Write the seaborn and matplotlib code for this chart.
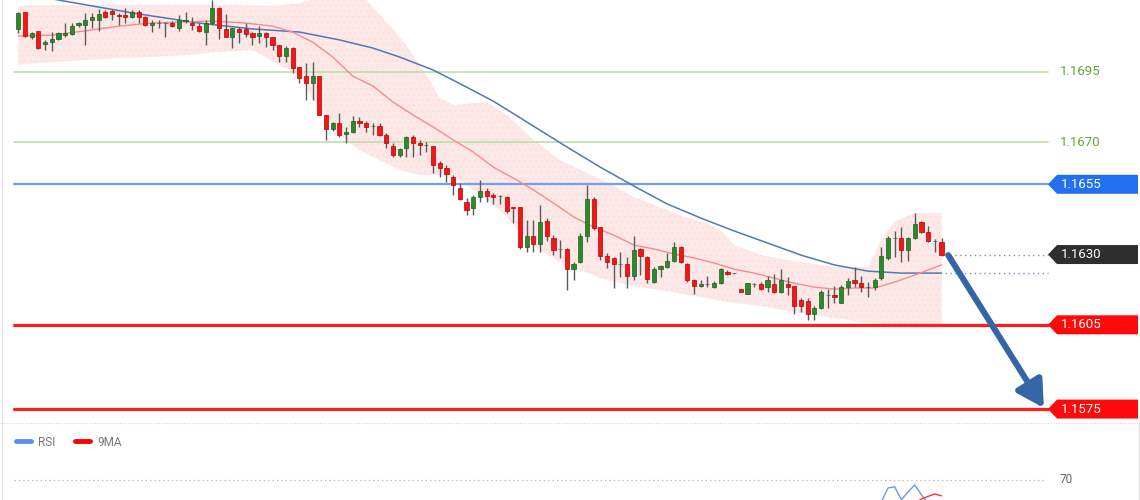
import numpy as np
import matplotlib
matplotlib.use('Agg')
from matplotlib import pyplot as plt
from matplotlib.patches import Polygon
from matplotlib.lines import Line2D
import seaborn as sns

# OHLC, one value per candle
opens = [
    1.17103, 1.17163, 1.17074, 1.17096, 1.17049, 1.17056, 1.17067, 1.17081, 1.17085, 1.17117,
    1.17117, 1.17135, 1.17135, 1.17163, 1.17167, 1.17153, 1.17153, 1.17145, 1.17163, 1.17145,
    1.17117, 1.17124, 1.17124, 1.17124, 1.17106, 1.17131, 1.17124, 1.17113, 1.17092, 1.17124,
    1.17178, 1.17103, 1.17074, 1.17103, 1.17103, 1.17089, 1.17078, 1.17089, 1.17074, 1.17046,
    1.17007, 1.17035, 1.16968, 1.16935, 1.16911, 1.16935, 1.16797, 1.16747, 1.16768, 1.16729,
    1.16736, 1.16775, 1.16768, 1.16757, 1.16757, 1.16725, 1.16686, 1.16654, 1.16679, 1.16718,
    1.16697, 1.16690, 1.16686, 1.16626, 1.16608, 1.16576, 1.16537, 1.16487, 1.16466, 1.16505,
    1.16526, 1.16512, 1.16508, 1.16505, 1.16469, 1.16469, 1.16327, 1.16366, 1.16337, 1.16419,
    1.16359, 1.16320, 1.16320, 1.16248, 1.16273, 1.16366, 1.16498, 1.16398, 1.16295, 1.16288,
    1.16266, 1.16266, 1.16223, 1.16320, 1.16291, 1.16202, 1.16248, 1.16256, 1.16277, 1.16327,
    1.16266, 1.16209, 1.16188, 1.16195, 1.16184, 1.16198, 1.16238, 1.16234, 1.16177, 1.16159,
    1.16195, 1.16195, 1.16184, 1.16195, 1.16166, 1.16195, 1.16188, 1.16138, 1.16134, 1.16088,
    1.16110, 1.16156, 1.16156, 1.16127, 1.16184, 1.16209, 1.16198, 1.16184, 1.16184, 1.16216,
    1.16288, 1.16359, 1.16359, 1.16316, 1.16359, 1.16416, 1.16380, 1.16348, 1.16344,
]
highs = [
    1.17163, 1.17163, 1.17092, 1.17096, 1.17064, 1.17092, 1.17092, 1.17124, 1.17124, 1.17128,
    1.17160, 1.17160, 1.17174, 1.17170, 1.17174, 1.17160, 1.17178, 1.17170, 1.17170, 1.17149,
    1.17135, 1.17135, 1.17128, 1.17131, 1.17153, 1.17163, 1.17145, 1.17124, 1.17135, 1.17206,
    1.17182, 1.17156, 1.17106, 1.17110, 1.17124, 1.17092, 1.17113, 1.17092, 1.17074, 1.17046,
    1.17042, 1.17039, 1.16968, 1.16982, 1.16985, 1.16935, 1.16797, 1.16772, 1.16804, 1.16754,
    1.16793, 1.16790, 1.16775, 1.16768, 1.16768, 1.16733, 1.16697, 1.16679, 1.16722, 1.16725,
    1.16708, 1.16700, 1.16686, 1.16633, 1.16619, 1.16583, 1.16555, 1.16501, 1.16512, 1.16565,
    1.16537, 1.16519, 1.16512, 1.16508, 1.16469, 1.16469, 1.16423, 1.16423, 1.16476, 1.16430,
    1.16369, 1.16352, 1.16323, 1.16273, 1.16377, 1.16547, 1.16505, 1.16398, 1.16305, 1.16291,
    1.16309, 1.16291, 1.16366, 1.16323, 1.16295, 1.16256, 1.16263, 1.16305, 1.16344, 1.16330,
    1.16270, 1.16213, 1.16209, 1.16223, 1.16206, 1.16252, 1.16245, 1.16236, 1.16177, 1.16198,
    1.16198, 1.16202, 1.16223, 1.16231, 1.16248, 1.16220, 1.16188, 1.16145, 1.16145, 1.16117,
    1.16174, 1.16177, 1.16188, 1.16191, 1.16216, 1.16256, 1.16223, 1.16202, 1.16216, 1.16327,
    1.16366, 1.16384, 1.16398, 1.16362, 1.16448, 1.16419, 1.16402, 1.16355, 1.16359,
]
lows = [
    1.17089, 1.17074, 1.17067, 1.17032, 1.17028, 1.17024, 1.17064, 1.17074, 1.17081, 1.17110,
    1.17046, 1.17106, 1.17096, 1.17142, 1.17135, 1.17117, 1.17124, 1.17142, 1.17124, 1.17113,
    1.17092, 1.17106, 1.17074, 1.17110, 1.17096, 1.17124, 1.17099, 1.17092, 1.17046, 1.17117,
    1.17067, 1.17074, 1.17035, 1.17053, 1.17074, 1.17046, 1.17053, 1.17039, 1.17028, 1.16985,
    1.16985, 1.16946, 1.16911, 1.16850, 1.16850, 1.16797, 1.16708, 1.16740, 1.16718, 1.16697,
    1.16733, 1.16754, 1.16736, 1.16725, 1.16722, 1.16679, 1.16647, 1.16647, 1.16647, 1.16647,
    1.16654, 1.16665, 1.16590, 1.16576, 1.16558, 1.16512, 1.16494, 1.16441, 1.16441, 1.16487,
    1.16487, 1.16480, 1.16480, 1.16448, 1.16412, 1.16320, 1.16309, 1.16309, 1.16309, 1.16348,
    1.16298, 1.16288, 1.16174, 1.16209, 1.16270, 1.16344, 1.16387, 1.16280, 1.16252, 1.16181,
    1.16220, 1.16181, 1.16209, 1.16227, 1.16198, 1.16198, 1.16220, 1.16252, 1.16273, 1.16270,
    1.16202, 1.16159, 1.16184, 1.16184, 1.16181, 1.16195, 1.16227, 1.16232, 1.16166, 1.16159,
    1.16184, 1.16174, 1.16166, 1.16163, 1.16163, 1.16156, 1.16088, 1.16095, 1.16067, 1.16067,
    1.16106, 1.16110, 1.16127, 1.16127, 1.16156, 1.16184, 1.16166, 1.16149, 1.16174, 1.16209,
    1.16280, 1.16291, 1.16273, 1.16277, 1.16355, 1.16377, 1.16344, 1.16309, 1.16295,
]
closes = [
    1.17160, 1.17078, 1.17089, 1.17035, 1.17056, 1.17067, 1.17089, 1.17089, 1.17113, 1.17124,
    1.17135, 1.17145, 1.17156, 1.17145, 1.17156, 1.17149, 1.17145, 1.17163, 1.17145, 1.17117,
    1.17124, 1.17124, 1.17124, 1.17113, 1.17135, 1.17135, 1.17117, 1.17096, 1.17124, 1.17178,
    1.17106, 1.17074, 1.17106, 1.17092, 1.17085, 1.17074, 1.17089, 1.17074, 1.17046, 1.17007,
    1.17035, 1.16964, 1.16928, 1.16911, 1.16935, 1.16797, 1.16747, 1.16768, 1.16725, 1.16736,
    1.16775, 1.16768, 1.16754, 1.16757, 1.16725, 1.16697, 1.16654, 1.16676, 1.16718, 1.16697,
    1.16690, 1.16690, 1.16619, 1.16608, 1.16587, 1.16547, 1.16498, 1.16458, 1.16505, 1.16526,
    1.16508, 1.16505, 1.16508, 1.16455, 1.16466, 1.16327, 1.16366, 1.16337, 1.16416, 1.16366,
    1.16316, 1.16320, 1.16248, 1.16266, 1.16366, 1.16498, 1.16394, 1.16295, 1.16273, 1.16266,
    1.16266, 1.16223, 1.16316, 1.16295, 1.16213, 1.16248, 1.16259, 1.16277, 1.16327, 1.16273,
    1.16209, 1.16188, 1.16195, 1.16195, 1.16198, 1.16248, 1.16231, 1.16234, 1.16166, 1.16198,
    1.16195, 1.16177, 1.16209, 1.16166, 1.16209, 1.16184, 1.16117, 1.16117, 1.16088, 1.16110,
    1.16166, 1.16156, 1.16149, 1.16184, 1.16206, 1.16198, 1.16184, 1.16184, 1.16209, 1.16295,
    1.16359, 1.16359, 1.16316, 1.16359, 1.16409, 1.16380, 1.16348, 1.16348, 1.16298,
]

# slow moving average (blue), sampled along the candles
ma_slow_idx = [0, 6, 17, 27, 35, 42, 48, 53, 57, 62, 67, 71, 76, 82, 87, 92, 97, 102,
               107, 112, 117, 122, 127, 132, 138]
ma_slow = [1.17234, 1.17206, 1.17160, 1.17124, 1.17103, 1.17092, 1.17064, 1.17035, 1.17003,
           1.16957, 1.16896, 1.16846, 1.16772, 1.16683, 1.16611, 1.16544, 1.16480, 1.16430,
           1.16384, 1.16341, 1.16298, 1.16263, 1.16241, 1.16234, 1.16234]

# fast moving average (red)
ma_fast_idx = [0, 5, 10, 15, 20, 25, 29, 34, 38, 41, 44, 47, 50, 53, 56, 59, 62, 65, 68, 71,
               74, 77, 80, 83, 86, 89, 92, 95, 98, 101, 104, 107, 110, 113, 116, 119, 122,
               125, 128, 131, 134, 136, 138]
ma_fast = [1.17078, 1.17081, 1.17096, 1.17113, 1.17124, 1.17128, 1.17131, 1.17124, 1.17113,
           1.17092, 1.17056, 1.17003, 1.16935, 1.16900, 1.16843, 1.16797, 1.16754, 1.16708,
           1.16665, 1.16611, 1.16572, 1.16530, 1.16483, 1.16434, 1.16398, 1.16369, 1.16334,
           1.16320, 1.16302, 1.16288, 1.16270, 1.16248, 1.16234, 1.16216, 1.16198, 1.16184,
           1.16177, 1.16181, 1.16181, 1.16202, 1.16227, 1.16245, 1.16263]

# envelope band (pink)
band_up_idx = [0, 10, 20, 30, 38, 42, 44, 47, 50, 52, 55, 58, 61, 63, 65, 68, 70, 73, 77, 81,
               85, 88, 92, 97, 100, 103, 105, 107, 111, 115, 118, 122, 125, 127, 129, 131, 134, 138]
band_up = [1.17185, 1.17188, 1.17188, 1.17188, 1.17185, 1.17195, 1.17206, 1.17234, 1.17234,
           1.17206, 1.17128, 1.17046, 1.16939, 1.16857, 1.16832, 1.16839, 1.16843, 1.16797,
           1.16708, 1.16636, 1.16590, 1.16558, 1.16505, 1.16458, 1.16430, 1.16412, 1.16387,
           1.16334, 1.16298, 1.16280, 1.16270, 1.16256, 1.16256, 1.16256, 1.16352, 1.16416,
           1.16448, 1.16448]
band_low_idx = [0, 5, 10, 15, 20, 25, 30, 35, 39, 42, 45, 48, 51, 54, 57, 60, 63, 66, 69, 72,
                75, 78, 81, 84, 87, 92, 98, 103, 106, 111, 116, 121, 126, 130, 134, 138]
band_low = [1.16975, 1.16985, 1.16992, 1.16999, 1.17003, 1.17010, 1.17021, 1.17028, 1.16975,
            1.16939, 1.16814, 1.16725, 1.16672, 1.16636, 1.16601, 1.16583, 1.16583, 1.16565,
            1.16512, 1.16458, 1.16380, 1.16316, 1.16273, 1.16245, 1.16216, 1.16188, 1.16166,
            1.16145, 1.16131, 1.16117, 1.16095, 1.16078, 1.16060, 1.16053, 1.16042, 1.16042]

# RSI panel (only the tail pokes into view)
rsi_idx = [126, 127, 128, 129, 130, 131, 132, 133, 134, 135, 136, 137, 138]
rsi = [45, 44, 50, 58, 65.6, 66.2, 59.1, 63.4, 67.3, 61.8, 57.4, 55.8, 52.5]
rsi_ma = [40, 42, 44, 48, 51, 53, 55, 57, 57.5, 59.6, 61, 62.3, 61.3]

# key levels
resist_levels = [1.1695, 1.1670]
pivot_level = 1.1655
support_levels = [1.1605, 1.1575]
target_level = 1.1575

sns.set_style('white')
plt.rcParams['font.family'] = ['Roboto', 'DejaVu Sans']
plt.rcParams['hatch.linewidth'] = 0.5

W, H = 1140, 500
fig = plt.figure(figsize=(11.4, 5), dpi=100)
ax = fig.add_axes([0, 78 / H, 1, 422 / H])
ax_rsi = fig.add_axes([0, -108 / H, 1, 183 / H])

xlim = (-2.735, 167.67)
ax.set_xlim(*xlim)
ax.set_ylim(1.15704, 1.17206)
ax.set_axis_off()

o, h, l, c = map(np.array, (opens, highs, lows, closes))
x = np.arange(len(o))

# band
bx = np.r_[band_up_idx, band_low_idx[::-1]]
by = np.r_[band_up, band_low[::-1]]
ax.fill(bx, by, facecolor='#fde8e8', edgecolor='none', zorder=1)
ax.fill(bx, by, facecolor='none', edgecolor='#fbdada', hatch='...', lw=0, zorder=1)

sns.lineplot(x=ma_slow_idx, y=ma_slow, ax=ax, color='#4f78b8', lw=1.1, zorder=2)
sns.lineplot(x=ma_fast_idx, y=ma_fast, ax=ax, color='#f48c8c', lw=1.0, zorder=2)

# candles
green, red, grey = '#2b8a2b', '#f21616', '#666666'
body_c = np.where(c > o, green, np.where(c < o, red, grey))
edge_c = np.where(c > o, '#1d5e1d', np.where(c < o, '#b80000', '#555555'))
ax.vlines(x, l, h, color='#5a5a5a', lw=1.0, zorder=3)
ax.bar(x, np.abs(c - o), bottom=np.minimum(o, c), width=0.62, color=body_c,
       edgecolor=edge_c, lw=0.5, zorder=4)

# horizontal levels
x0f, x1f = 14 / W, 1048 / W
for lv in resist_levels:
    ax.axhline(lv, x0f, x1f, color='#bddfa8', lw=1.2, zorder=1.5)
    ax.text(1060 / W, lv, f'{lv:.4f}', transform=ax.get_yaxis_transform(),
            color='#62a832', fontsize=9.5, va='center', ha='left')
ax.axhline(pivot_level, x0f, x1f, color='#72a0f0', lw=1.6, zorder=1.5)
for lv in support_levels:
    ax.axhline(lv, x0f, x1f, color='#ff1c1c', lw=2.3, zorder=1.5)

tr = ax.get_yaxis_transform()
ax.plot([950 / W, 1048 / W], [c[-1], c[-1]], transform=tr, ls=(0, (1, 2.5)),
        color='#8c8c8c', lw=1)
ax.plot([945 / W, 1048 / W], [ma_slow[-1], ma_slow[-1]], transform=tr, ls=(0, (1, 2.5)),
        color='#6d8ec6', lw=1)


def tag(level, fc):
    hh = 9.5 / 28100
    xs = [1048 / W, 1057 / W, 1138 / W, 1138 / W, 1057 / W]
    ys = [level, level + hh, level + hh, level - hh, level - hh]
    ax.add_patch(Polygon(np.c_[xs, ys], closed=True, transform=tr, fc=fc, ec='none',
                         clip_on=False, zorder=6))
    ax.text(1061 / W, level, f'{level:.4f}', transform=tr, color='white', fontsize=9.5,
            va='center', ha='left', zorder=7)


tag(pivot_level, '#2370ee')
tag(round(c[-1], 4), '#2e2e2e')
for lv in support_levels:
    tag(lv, '#ff0a0a')

# projected move
ax.annotate('', xy=(153.3, target_level + 0.00004), xytext=(x[-1] + 1.0, c[-1]),
            arrowprops=dict(arrowstyle='-|>,head_length=0.8,head_width=0.45',
                            mutation_scale=20, lw=4.4, color='#3565a6',
                            shrinkA=0, shrinkB=0),
            zorder=8)

# RSI panel
ax_rsi.set_xlim(*xlim)
ax_rsi.set_ylim(0, 100)
ax_rsi.set_axis_off()
sns.lineplot(x=rsi_idx, y=rsi, ax=ax_rsi, color='#7098ea', lw=1.0, label='RSI')
sns.lineplot(x=rsi_idx, y=rsi_ma, ax=ax_rsi, color='#ff3535', lw=1.0, label='9MA')
ax_rsi.axhline(70, 14 / W, 1045 / W, color='#b5b5b5', ls=(0, (1, 2.5)), lw=0.9)
ax_rsi.text(1060 / W, 70, '70', transform=ax_rsi.get_yaxis_transform(), color='#666666',
            fontsize=8.5, va='center', ha='left')
leg = ax_rsi.legend(loc='center left', bbox_to_anchor=(16 / W, 1 - 17 / 183), ncol=2,
                    frameon=False, fontsize=8.5, handlelength=1.3, handletextpad=0.6,
                    columnspacing=1.6, borderaxespad=0, borderpad=0)
for ln, col in zip(leg.get_lines(), ['#5b8def', '#ff0000']):
    ln.set_linewidth(3.5)
    ln.set_color(col)
for t in leg.get_texts():
    t.set_color('#777777')

# panel frame
fig.add_artist(Line2D([0, 1], [77 / H, 77 / H], transform=fig.transFigure,
                      color='#d8d8d8', ls=(0, (1, 1.5)), lw=0.8))
fig.add_artist(Line2D([1.5 / W, 1.5 / W], [0, 1], transform=fig.transFigure,
                      color='#e2e2e2', lw=0.8))
fig.add_artist(Line2D([1138.5 / W, 1138.5 / W], [0, 77 / H], transform=fig.transFigure,
                      color='#dcdcdc', lw=0.8))

fig.savefig('out.png', dpi=100, facecolor='white')
